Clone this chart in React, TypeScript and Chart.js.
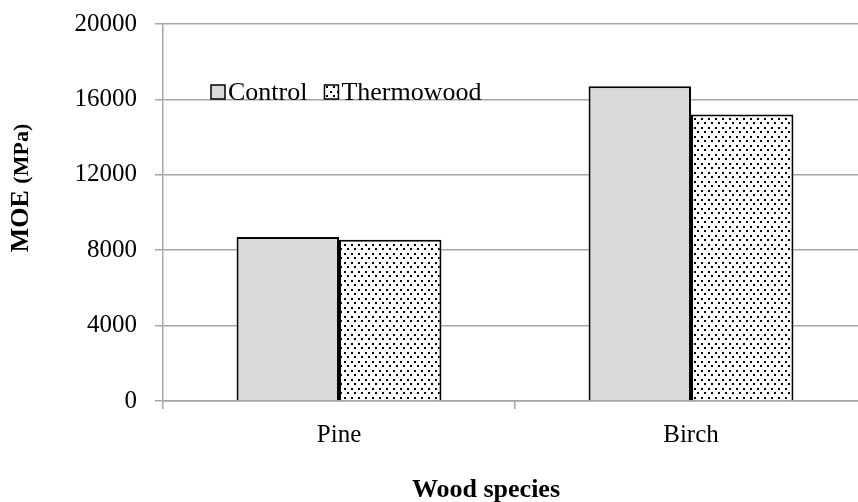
import React, { useEffect, useRef } from "react";
import { Chart, registerables } from "chart.js";

Chart.register(...registerables);

const categories = ["Pine", "Birch"];
const seriesNames = ["Control", "Thermowood"];
const controlValues = [8700, 16700];
const thermowoodValues = [8550, 15200];
const yTicks = [0, 4000, 8000, 12000, 16000, 20000];
const xTitle = "Wood species";
const yTitleMain = "MOE";
const yTitleUnit = "(MPa)";

const SERIF = "'Liberation Serif', 'Times New Roman', serif";
const GRID = "#a6a6a6";
const CW = 868;
const CH = 502;

function makeDotPattern(ctx: CanvasRenderingContext2D): CanvasPattern | string {
  const tile = document.createElement("canvas");
  tile.width = 7;
  tile.height = 9;
  const t = tile.getContext("2d");
  if (!t) return "#fff";
  t.fillStyle = "#ffffff";
  t.fillRect(0, 0, 7, 9);
  t.fillStyle = "#000000";
  t.fillRect(1, 1, 2, 2);
  t.fillRect(4, 5, 2, 2);
  return ctx.createPattern(tile, "repeat") || "#fff";
}

export default function App() {
  const ref = useRef<HTMLCanvasElement | null>(null);

  useEffect(() => {
    document.body.style.margin = "0";
    const canvas = ref.current;
    if (!canvas) return;
    const ctx = canvas.getContext("2d");
    if (!ctx) return;
    const pattern = makeDotPattern(ctx);

    const overlay = {
      id: "overlay",
      afterDraw(chart: any) {
        const c = chart.ctx as CanvasRenderingContext2D;
        c.save();
        // legend
        const ly = 92;
        let lx = 211;
        const sw = 14;
        c.font = `26px ${SERIF}`;
        c.textBaseline = "middle";
        c.textAlign = "left";
        chart.data.datasets.forEach((ds: any, i: number) => {
          c.fillStyle = i === 0 ? "#d9d9d9" : (pattern as any);
          c.fillRect(lx, ly - sw / 2, sw, sw);
          c.lineWidth = 1.5;
          c.strokeStyle = "#000";
          c.strokeRect(lx, ly - sw / 2, sw, sw);
          c.fillStyle = "#000";
          c.fillText(ds.label, lx + sw + 3, ly + 1);
          lx += sw + 3 + c.measureText(ds.label).width + 17;
        });
        // x title
        c.font = `bold 26px ${SERIF}`;
        c.textAlign = "center";
        c.textBaseline = "middle";
        c.fillText(xTitle, 486, 490);
        // y title
        c.translate(21, 188);
        c.rotate(-Math.PI / 2);
        c.textAlign = "left";
        c.font = `bold 26px ${SERIF}`;
        const w1 = c.measureText(yTitleMain + " ").width;
        c.font = `bold 22px ${SERIF}`;
        const w2 = c.measureText(yTitleUnit).width;
        const start = -(w1 + w2) / 2;
        c.font = `bold 26px ${SERIF}`;
        c.fillText(yTitleMain + " ", start, 0);
        c.font = `bold 22px ${SERIF}`;
        c.fillText(yTitleUnit, start + w1, 1);
        c.restore();
      },
    };

    const chart = new Chart(canvas, {
      type: "bar",
      data: {
        labels: categories,
        datasets: [
          {
            label: seriesNames[0],
            data: controlValues,
            backgroundColor: "#d9d9d9",
            borderColor: "#000",
            borderWidth: 2,
            borderSkipped: "bottom",
          },
          {
            label: seriesNames[1],
            data: thermowoodValues,
            backgroundColor: pattern as any,
            borderColor: "#000",
            borderWidth: 2,
            borderSkipped: "bottom",
          },
        ],
      },
      options: {
        responsive: false,
        animation: false,
        devicePixelRatio: 1,
        layout: { padding: { top: 24, right: 1, left: 0, bottom: 0 } },
        plugins: { legend: { display: false }, tooltip: { enabled: false } },
        datasets: { bar: { categoryPercentage: 0.582, barPercentage: 1 } },
        scales: {
          x: {
            offset: true,
            grid: {
              offset: true,
              drawOnChartArea: false,
              drawTicks: true,
              tickLength: 8,
              color: GRID,
              lineWidth: 1.5,
            },
            border: { color: GRID, width: 1.5 },
            ticks: {
              color: "#000",
              font: { family: SERIF, size: 25 },
              padding: 11,
            },
            afterFit(scale: any) {
              scale.height = 101;
              scale.paddingLeft = 0;
              scale.paddingRight = 0;
            },
          },
          y: {
            min: 0,
            max: 20000,
            afterBuildTicks(scale: any) {
              scale.ticks = yTicks.map((v) => ({ value: v }));
            },
            grid: {
              color: GRID,
              lineWidth: 1.5,
              tickLength: 8,
              drawTicks: true,
            },
            border: { color: GRID, width: 1.5 },
            ticks: {
              color: "#000",
              font: { family: SERIF, size: 25 },
              padding: 18,
              callback: (v: any) => String(v),
            },
            afterFit(scale: any) {
              scale.width = 163;
              scale.paddingTop = 0;
              scale.paddingBottom = 0;
            },
          },
        },
      },
      plugins: [overlay],
    });
    return () => chart.destroy();
  }, []);

  return (
    <div style={{ position: "absolute", left: 0, top: 0, width: 858, height: 502, overflow: "hidden" }}>
      <canvas ref={ref} width={CW} height={CH} style={{ display: "block" }} />
    </div>
  );
}
